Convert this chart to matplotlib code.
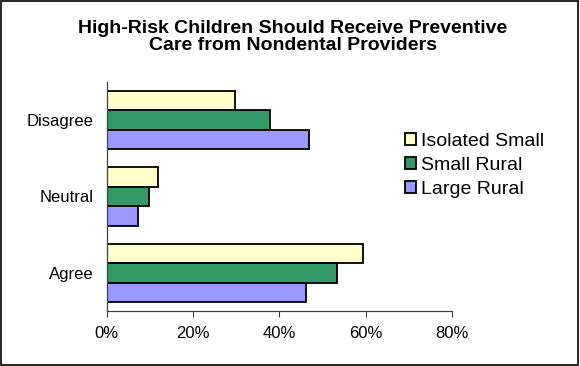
import matplotlib.pyplot as plt
from matplotlib.patches import Rectangle
from matplotlib.ticker import FuncFormatter

categories = ['Agree', 'Neutral', 'Disagree']
series = ['Isolated Small', 'Small Rural', 'Large Rural']
isolated_small = [59.4, 12.0, 29.7]
small_rural = [53.3, 9.8, 37.9]
large_rural = [46.3, 7.4, 47.0]
colors = ['#FFFFCC', '#339966', '#9999FF']
x_ticks = [0, 20, 40, 60, 80]

plt.rcParams['font.family'] = ['Liberation Sans', 'DejaVu Sans']

fig = plt.figure(figsize=(5.8, 3.66), dpi=100)
ax = fig.add_axes([106.5 / 580, 1 - 311 / 366, (452 - 106.5) / 580, (311 - 82) / 366])

h = 0.254
values = [isolated_small, small_rural, large_rural]
offsets = [h, 0, -h]
handles = []
for vals, off, col, name in zip(values, offsets, colors, series):
    b = ax.barh([i + off for i in range(len(categories))], vals, height=h,
                color=col, edgecolor='black', linewidth=1.3, label=name)
    handles.append(b)

ax.set_xlim(0, 80)
ax.set_ylim(-0.5, 2.5)
ax.set_xticks(x_ticks)
ax.xaxis.set_major_formatter(FuncFormatter(lambda v, p: '%d%%' % v))
ax.set_yticks(range(len(categories)))
ax.set_yticklabels(categories)
ax.tick_params(axis='both', labelsize=12, colors='black', length=4, width=0.8)
ax.tick_params(axis='x', color='#404040', pad=7)
ax.tick_params(axis='y', length=0, pad=9)
for s in ['top', 'right']:
    ax.spines[s].set_visible(False)
for s in ['left', 'bottom']:
    ax.spines[s].set_color('#404040')
    ax.spines[s].set_linewidth(0.9)

fig.text(293 / 580, 1 - 37 / 366, 'High-Risk Children Should Receive Preventive\nCare from Nondental Providers',
         ha='center', va='center', fontsize=14, fontweight='bold', linespacing=1.0)

fig.legend(handles=handles, loc='upper left', bbox_to_anchor=(405 / 580, 1 - 133 / 366),
           frameon=False, fontsize=14, handlelength=0.55, handleheight=0.55,
           handletextpad=0.25, labelspacing=0.36, borderaxespad=0, borderpad=0)

fig.patches.append(Rectangle((0.002, 0.003), 0.995, 0.994, transform=fig.transFigure,
                             fill=False, edgecolor='black', linewidth=1.2))

fig.savefig('out.png', dpi=100)
